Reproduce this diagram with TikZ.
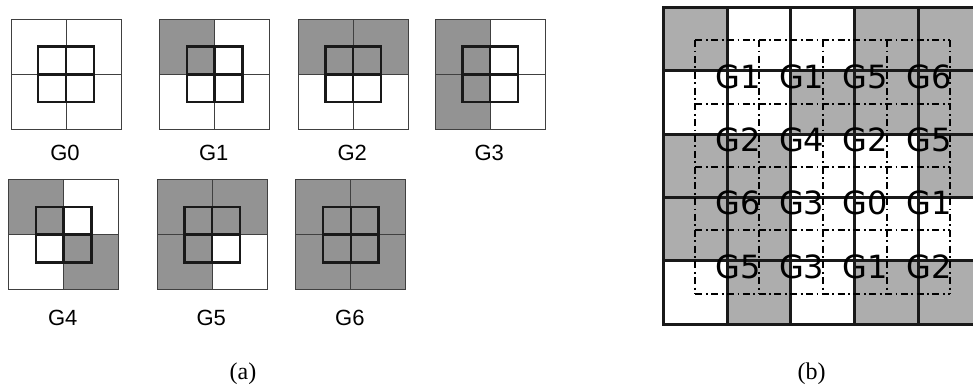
\documentclass[tikz,border=0pt]{standalone}
\usepackage{fontspec}
\setmainfont{Liberation Serif}
\newfontfamily\afont{Liberation Sans}
\newfontfamily\bfont{DejaVu Sans}
\definecolor{agray}{HTML}{939393}
\definecolor{bgray}{HTML}{ADADAD}
\tikzset{
  afill/.style={fill=agray},
  bfill/.style={fill=bgray},
  thinln/.style={draw=black!75, line width=0.9pt},
  boldln/.style={draw=black!90, line width=2.5pt, line join=miter},
  gridbold/.style={draw=black!90, line width=3pt, line cap=rect},
  gridcut/.style={draw=black, line width=2pt, dash pattern=on 7pt off 3.5pt on 1.8pt off 3.5pt},
  alabel/.style={font=\afont\fontsize{22}{22}\selectfont, anchor=base, inner sep=0pt},
  blabel/.style={font=\bfont\fontsize{32}{32}\selectfont, anchor=base west, inner sep=0pt},
  caption/.style={font=\fontsize{24}{24}\selectfont, anchor=base, inner sep=0pt}
}
\newcommand\gtile[9]{%
  \begin{scope}[shift={(#1,#2)}]
    \ifnum#3=1 \fill[afill] (-55,-55) rectangle (0,0);\fi
    \ifnum#4=1 \fill[afill] (0,-55) rectangle (55,0);\fi
    \ifnum#5=1 \fill[afill] (-55,0) rectangle (0,55);\fi
    \ifnum#6=1 \fill[afill] (0,0) rectangle (55,55);\fi
    \draw[thinln] (-55,-55) rectangle (55,55) (-55,0) -- (55,0) (0,-55) -- (0,55);
    \draw[boldln] (-27.8,-27.8) rectangle (27.8,27.8) (-27.8,0) -- (27.8,0) (0,-27.8) -- (0,27.8);
    \node[alabel] (#9) at (-1,#8) {#7};
  \end{scope}}
\begin{document}
\begin{tikzpicture}[x=1pt,y=-1pt]
\useasboundingbox (0,0) rectangle (973,387);
% ---- (a)
\gtile{66}{74.3}{0}{0}{0}{0}{G0}{86}{tG0}
\gtile{214.7}{74.3}{1}{0}{0}{0}{G1}{86}{tG1}
\gtile{353.2}{74.3}{1}{1}{0}{0}{G2}{86}{tG2}
\gtile{490.2}{74.3}{1}{0}{1}{0}{G3}{86}{tG3}
\gtile{63.7}{234.6}{1}{0}{0}{1}{G4}{90.5}{tG4}
\gtile{212.2}{234.6}{1}{1}{1}{0}{G5}{90.5}{tG5}
\gtile{350.9}{234.6}{1}{1}{1}{1}{G6}{90.5}{tG6}
\node[caption] (capa) at (243,379) {(a)};
% ---- (b)
\begin{scope}
\clip (0,0) rectangle (973,387);
\foreach \rowvals [count=\r from 0] in {{1,0,0,1,1},{0,0,1,1,1},{1,1,0,0,1},{1,1,0,0,0},{0,1,0,1,1}}{
  \foreach \v [count=\c from 0] in \rowvals {
    \ifnum\v=1
      \fill[bfill] ({663.5+63.7*\c},{7.5+63.36*\r}) rectangle ++(63.7,63.36);
    \fi
  }
}
\foreach \k in {0,...,5}{
  \draw[gridbold] ({663.5+63.7*\k},7.5) -- ({663.5+63.7*\k},324.3);
  \draw[gridbold] (663.5,{7.5+63.36*\k}) -- (990,{7.5+63.36*\k});
}
\foreach \k in {0,...,4}{
  \draw[gridcut] ({695.4+63.7*\k},40.2) -- ({695.4+63.7*\k},293.6);
  \draw[gridcut] (695.4,{40.2+63.36*\k}) -- (950.2,{40.2+63.36*\k});
}
\foreach \labs [count=\r from 1] in {{G1,G1,G5,G6},{G2,G4,G2,G5},{G6,G3,G0,G1},{G5,G3,G1,G2}}{
  \foreach \t [count=\c from 1] in \labs {
    \node[blabel] (b\r\c) at ({663.5+63.7*\c-12},{7.5+63.36*\r+17.3}) {\t};
  }
}
\end{scope}
\node[caption] (capb) at (811.7,379) {(b)};
\end{tikzpicture}
\end{document}
